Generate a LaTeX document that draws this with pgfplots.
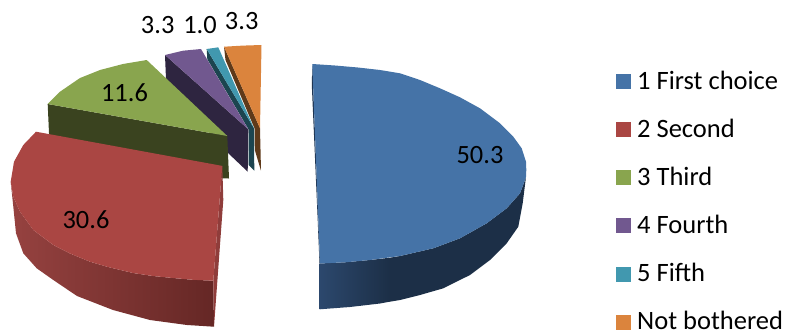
\documentclass[border=0pt]{standalone}
\usepackage{pgfplots}
\pgfplotsset{compat=1.18}
\usepackage{fontspec}
\setmainfont{Carlito}
\definecolor{cBlue}{HTML}{4573A7}
\definecolor{cBlueA}{HTML}{2C486D}
\definecolor{cBlueB}{HTML}{1C2F47}
\definecolor{cBlueC}{HTML}{1F3552}
\definecolor{cRed}{HTML}{AA4643}
\definecolor{cRedA}{HTML}{964240}
\definecolor{cRedB}{HTML}{652725}
\definecolor{cRedC}{HTML}{8F3D3B}
\definecolor{cGreen}{HTML}{89A54E}
\definecolor{cGreenS}{HTML}{3A431F}
\definecolor{cPurple}{HTML}{71588F}
\definecolor{cPurpleS}{HTML}{2E2540}
\definecolor{cTeal}{HTML}{4198AF}
\definecolor{cTealS}{HTML}{1C4550}
\definecolor{cOrange}{HTML}{DB843D}
\definecolor{cOrangeS}{HTML}{5F3A1A}
\newcommand{\lab}{\fontsize{26.4}{30}\selectfont}
\newcommand{\keyf}{\fontsize{26.5}{30}\selectfont}
\begin{document}
\begin{tikzpicture}
\begin{axis}[
  x=1pt, y=1pt, xmin=0, xmax=785, ymin=0, ymax=333,
  y dir=reverse, axis lines=none, clip=false,
  every axis plot/.append style={draw=none, mark=none},
]
% fixes the extent of the drawing area
\path (axis cs:0,0) -- (axis cs:785,333);
% Not bothered (3.3): cut face, then top
\addplot[fill=cOrangeS] coordinates {(224,46.7)(260,128.3)(261,170.7)(254.8,150)(254.5,128.3)(225.5,60)} -- cycle;
\addplot[fill=cOrange] coordinates {(224,46.7)(243,45.6)(261.5,45)(260,128.3)} -- cycle;
% 5 Fifth (1.0)
\addplot[fill=cTealS] coordinates {(206.7,49)(254,128.3)(254.3,170.7)(248.5,165)(248.5,129.3)(207.3,59.3)} -- cycle;
\addplot[fill=cTeal] coordinates {(206.7,49)(218.3,47.3)(254,128.3)} -- cycle;
% 4 Fourth (3.3)
\addplot[fill=cPurpleS] coordinates {(165,55)(248.3,129.3)(247.7,171.7)(228,153)(166,79.3)} -- cycle;
\addplot[fill=cPurple] coordinates {(165,55)(183,50.7)(201,49)(248.3,129.3)} -- cycle;
% 3 Third (11.6)
\addplot[fill=cGreenS] coordinates {(47.7,104)(227.3,136)(229,178.5)(200,178)(49.3,140)} -- cycle;
\addplot[fill=cGreen] coordinates {(47.7,104)(60,91.7)(80,78)(100,70)(123,64)(146.7,60)(227.3,136)} -- cycle;
% 2 Second (30.6): rim, cut face, top
\addplot[left color=cRedA, right color=cRedB] coordinates {(10.7,182)(13.3,196.7)(20,211.7)(33.3,230)(53.3,245)(70,253.5)(90,261.7)(108,267)(133,273)(153,276)(173,278)(193,279.8)(213.3,280.7)(214,326.7)(187,325)(150,320)(113,310)(77,296)(53.3,280)(36.7,268.3)(23.3,253.3)(16,233.3)(13.3,206.7)} -- cycle;
\addplot[fill=cRedC] coordinates {(222.3,166)(223.3,200)(214,326.7)(213.3,280.7)} -- cycle;
\addplot[fill=cRed] coordinates {(36,131.7)(222.3,165.9)(213.3,280.7)(193,279.8)(173,278)(153,276)(133,273)(108,267)(90,261.7)(70,253.5)(53.3,245)(33.3,230)(20,211.7)(13.3,196.7)(10.7,181.7)(14,161.7)(23.3,145)} -- cycle;
% 1 First choice (50.3): rim in two parts, cut face, top
\addplot[fill=cBlueB] coordinates {(526,176.7)(525,180)(520,193.3)(506.7,208.3)(486.7,223.3)(460,238.3)(433.3,248.3)(400,256)(388,258)(388,302)(400,300)(420,295)(443.3,288.3)(470,275)(490,260)(506.7,243.3)(518.3,226.7)(522.7,203.3)} -- cycle;
\addplot[left color=cBlueA, right color=cBlueB] coordinates {(319.5,263.5)(345,262.3)(370,260)(389,257.8)(389,301.8)(380,303.5)(350,307)(319.5,309.3)} -- cycle;
\addplot[fill=cBlueC] coordinates {(312.3,64)(311.8,85)(314,135)(317.5,215)(319.5,263.5)(320,263.5)} -- cycle;
\addplot[fill=cBlue] coordinates {(312.3,64)(335,65.5)(358,67.5)(380,70)(400,73.3)(420,80)(440,88.3)(460,97.3)(480,108.3)(500,123.3)(513.3,136.7)(521.7,148.3)(526,161.7)(526.3,170)(526,176.7)(525,180)(520,193.3)(506.7,208.3)(486.7,223.3)(460,238.3)(433.3,248.3)(400,256)(370,260)(345,262.3)(320,263.5)} -- cycle;
% value labels
\node[font=\lab] at (axis cs:480,155) {50.3};
\node[font=\lab] at (axis cs:86,219.3) {30.6};
\node[font=\lab] at (axis cs:124.5,92.7) {11.6};
\node[font=\lab] at (axis cs:157.7,25) {3.3};
\node[font=\lab] at (axis cs:200,25) {1.0};
\node[font=\lab] at (axis cs:241.7,21) {3.3};
% key
\addplot[fill=cBlue] coordinates {(616,74)(631,74)(631,89)(616,89)} -- cycle;
\addplot[fill=cRed] coordinates {(616,122)(631,122)(631,137)(616,137)} -- cycle;
\addplot[fill=cGreen] coordinates {(616,170)(631,170)(631,185)(616,185)} -- cycle;
\addplot[fill=cPurple] coordinates {(616,218)(631,218)(631,233)(616,233)} -- cycle;
\addplot[fill=cTeal] coordinates {(616,267)(631,267)(631,282)(616,282)} -- cycle;
\addplot[fill=cOrange] coordinates {(616,315)(631,315)(631,330)(616,330)} -- cycle;
\tikzset{keytext/.style={font=\keyf, anchor=base west, inner sep=0pt}}
\node[keytext] at (axis cs:637,89) {1 First choice};
\node[keytext] at (axis cs:637,137) {2 Second};
\node[keytext] at (axis cs:637,185) {3 Third};
\node[keytext] at (axis cs:637,233.3) {4 Fourth};
\node[keytext] at (axis cs:637,281.7) {5 Fifth};
\node[keytext] at (axis cs:637,329.3) {Not bothered};
\end{axis}
\end{tikzpicture}
\end{document}
